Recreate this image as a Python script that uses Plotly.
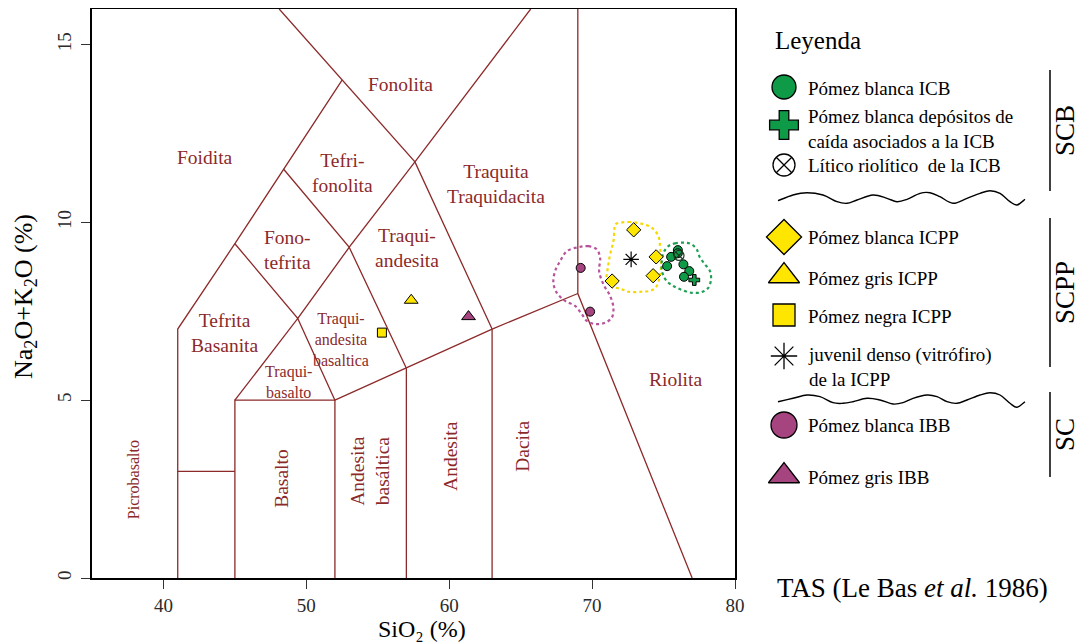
import plotly.graph_objects as go

# ---------------- DATA (SiO2 wt%, Na2O+K2O wt%) ----------------
icb_blanca_sio2 = [75.25, 75.53, 76.0, 76.0, 76.39, 76.8, 76.43]
icb_blanca_alk = [8.77, 9.03, 9.22, 9.13, 8.82, 8.63, 8.47]
icb_caida_sio2 = [77.15]
icb_caida_alk = [8.38]
icb_litico_sio2 = [76.08]
icb_litico_alk = [9.07]
icpp_blanca_sio2 = [72.91, 74.48, 74.27, 71.4]
icpp_blanca_alk = [9.79, 9.03, 8.5, 8.35]
icpp_gris_sio2 = [57.34]
icpp_gris_alk = [7.81]
icpp_negra_sio2 = [55.29]
icpp_negra_alk = [6.9]
icpp_vitro_sio2 = [72.73]
icpp_vitro_alk = [8.96]
ibb_blanca_sio2 = [69.2, 69.86]
ibb_blanca_alk = [8.72, 7.49]
ibb_gris_sio2 = [61.35]
ibb_gris_alk = [7.35]

# field envelopes (dotted outlines)
env_ibb_sio2 = [69.04, 69.74, 70.33, 70.56, 70.49, 70.79, 71.26, 71.49, 71.38, 70.91, 70.21, 69.63,
                69.28, 68.81, 68.11, 67.53, 67.29, 67.41, 67.76, 68.23, 69.04]
env_ibb_alk = [9.30, 9.33, 9.24, 9.00, 8.63, 8.26, 7.93, 7.60, 7.32, 7.18, 7.14, 7.23,
               7.42, 7.65, 7.79, 8.02, 8.30, 8.63, 8.91, 9.19, 9.30]
env_icpp_sio2 = [71.61, 72.54, 73.48, 74.17, 74.64, 74.76, 74.83, 74.76, 74.52, 74.17, 73.48, 72.54,
                 72.08, 71.38, 71.03, 71.10, 71.26, 71.49, 71.56, 71.61]
env_icpp_alk = [9.94, 10.01, 9.96, 9.85, 9.61, 9.28, 8.91, 8.54, 8.21, 8.09, 8.05, 8.05,
                8.12, 8.21, 8.40, 8.72, 9.10, 9.47, 9.80, 9.94]
env_icb_sio2 = [75.34, 75.80, 76.50, 76.97, 77.32, 77.55, 77.90, 78.25, 78.32, 78.13, 77.67, 76.97,
                76.27, 75.69, 75.22, 74.92, 74.87, 74.99, 75.34]
env_icb_alk = [9.33, 9.41, 9.43, 9.38, 9.24, 9.01, 8.82, 8.63, 8.40, 8.16, 8.04, 8.02,
               8.10, 8.21, 8.35, 8.58, 8.86, 9.14, 9.33]

# TAS (Le Bas et al. 1986) field boundaries
tas_boundaries = [
    ([41, 41, 45, 48.4, 52.5], [0, 7, 9.4, 11.5, 14]),
    ([41, 45], [3, 3]),
    ([45, 45, 52, 52], [0, 5, 5, 0]),
    ([45, 49.4, 52], [5, 7.3, 5]),
    ([52, 57, 63, 69], [5, 5.9, 7, 8]),
    ([57, 57], [0, 5.9]),
    ([63, 63], [0, 7]),
    ([69, 69, 77], [16, 8, 0]),
    ([45, 49.4, 53, 57], [9.4, 7.3, 9.3, 5.9]),
    ([48.4, 53, 57.6, 65.7], [11.5, 9.3, 11.7, 16]),
    ([48.1, 52.5, 57.6, 63], [16, 14, 11.7, 7]),
]

# field names: (text, SiO2, alkalis, size, angle)
field_labels = [
    ("Foidita", 42.94, 11.83, 19.5, 0),
    ("Fonolita", 56.57, 13.87, 19.5, 0),
    ("Tefri-<br>fonolita", 52.5, 11.40, 19.5, 0),
    ("Traquita<br>Traquidacita", 63.29, 11.09, 19.5, 0),
    ("Fono-<br>tefrita", 48.65, 9.22, 19.5, 0),
    ("Traqui-<br>andesita", 57.06, 9.28, 19.5, 0),
    ("Tefrita<br>Basanita", 44.27, 6.89, 19.5, 0),
    ("Traqui-<br>andesita<br>basaltica", 52.42, 6.70, 16, 0),
    ("Traqui-<br>basalto", 48.76, 5.51, 16, 0),
    ("Picrobasalto", 37.92, 2.77, 16, -90),
    ("Basalto", 48.3, 2.79, 19.5, -90),
    ("Andesita<br>basáltica", 54.4, 3.02, 19.5, -90),
    ("Andesita", 60.07, 3.44, 19.5, -90),
    ("Dacita", 65.12, 3.70, 19.5, -90),
    ("Riolita", 75.87, 5.57, 19.5, 0),
]

x_ticks = [40, 50, 60, 70, 80]
y_ticks = [0, 5, 10, 15]

# ---------------- STYLE / LAYOUT ----------------
FONT = "Liberation Serif"
TAS_COL = "#8c2a2a"
GREEN = "#0f9a48"
YELLOW = "#ffe600"
PURPLE = "#a5447f"
ENV_GREEN = "#1fa055"
ENV_YELLOW = "#f5d800"
ENV_PURPLE = "#b8529a"

OFF = 8                    # page offset of the plot div (body margin)
W, H = 1083, 644
FL, FR, FT, FB = 92, 735, 9, 578   # frame edges in page pixels

fig = go.Figure()

for xs, ys in tas_boundaries:
    fig.add_trace(go.Scatter(x=xs, y=ys, mode="lines", line=dict(color=TAS_COL, width=1.3),
                             hoverinfo="skip", showlegend=False))

for xs, ys, col in [(env_ibb_sio2, env_ibb_alk, ENV_PURPLE),
                    (env_icpp_sio2, env_icpp_alk, ENV_YELLOW),
                    (env_icb_sio2, env_icb_alk, ENV_GREEN)]:
    fig.add_trace(go.Scatter(x=xs, y=ys, mode="lines",
                             line=dict(color=col, width=2.2, dash="dot", shape="spline", smoothing=1.0),
                             hoverinfo="skip", showlegend=False))

edge = dict(color="black", width=1)
series = [
    (ibb_blanca_sio2, ibb_blanca_alk, "circle", PURPLE, 9),
    (ibb_gris_sio2, ibb_gris_alk, "triangle-up", PURPLE, 12),
    (icpp_gris_sio2, icpp_gris_alk, "triangle-up", YELLOW, 12),
    (icpp_negra_sio2, icpp_negra_alk, "square", YELLOW, 9),
    (icpp_blanca_sio2, icpp_blanca_alk, "diamond", YELLOW, 11),
    (icb_blanca_sio2, icb_blanca_alk, "circle", GREEN, 9),
    (icb_caida_sio2, icb_caida_alk, "cross", GREEN, 9),
]
for xs, ys, sym, col, sz in series:
    fig.add_trace(go.Scatter(x=xs, y=ys, mode="markers",
                             marker=dict(symbol=sym, color=col, size=sz, line=edge),
                             showlegend=False))
fig.add_trace(go.Scatter(x=icb_litico_sio2, y=icb_litico_alk, mode="markers",
                         marker=dict(symbol="circle-x-open", color="#1d3b24", size=10,
                                     line=dict(width=1.2, color="#1d3b24")), showlegend=False))
fig.add_trace(go.Scatter(x=icpp_vitro_sio2, y=icpp_vitro_alk, mode="markers",
                         marker=dict(symbol="asterisk-open", color="black", size=13,
                                     line=dict(width=1.2, color="black")), showlegend=False))

# ---------------- custom legend on a full-page overlay subplot (page pixels) ----------------
legend_items = [
    ("circle", GREEN, 24, 87, "Pómez blanca ICB", 88),
    ("cross", GREEN, 24, 125, "Pómez blanca depósitos de<br>caída asociados a la ICB", 129),
    ("circle-x-open", "black", 22, 165, "Lítico riolítico  de la ICB", 165),
    ("diamond", YELLOW, 27, 237, "Pómez blanca ICPP", 237),
    ("triangle-up", YELLOW, 27, 276, "Pómez gris ICPP", 278),
    ("square", YELLOW, 22, 315, "Pómez negra ICPP", 316),
    ("asterisk-open", "black", 22, 356, "juvenil denso (vitrófiro)<br>de la ICPP", 367),
    ("circle", PURPLE, 26, 425, "Pómez blanca IBB", 425),
    ("triangle-up", PURPLE, 27, 476, "Pómez gris IBB", 477),
]
for sym, col, sz, ypx, txt, ty in legend_items:
    fig.add_trace(go.Scatter(x=[784], y=[ypx], mode="markers", xaxis="x2", yaxis="y2",
                             showlegend=False, hoverinfo="skip",
                             marker=dict(symbol=sym, color=col, size=sz,
                                         line=dict(color="black", width=1.3))))

annotations = []
for txt, x, y, sz, ang in field_labels:
    annotations.append(dict(x=x, y=y, xref="x", yref="y", text=txt, showarrow=False, textangle=ang,
                            xanchor="center", yanchor="middle",
                            font=dict(family=FONT, size=sz, color=TAS_COL), align="center"))

for sym, col, sz, ypx, txt, ty in legend_items:
    annotations.append(dict(x=806, y=ty, xref="x2", yref="y2", text=txt,
                            showarrow=False, xanchor="left", yanchor="middle", align="left",
                            font=dict(family=FONT, size=19, color="black")))


def page_text(txt, x, y, size, angle=0):
    return dict(x=x, y=y, xref="x2", yref="y2", text=txt, showarrow=False, textangle=angle,
                xanchor="center", yanchor="middle", borderpad=0,
                font=dict(family=FONT, size=size, color="black"))


annotations += [
    page_text("Leyenda", 818, 40, 25),
    page_text("SCB", 1065, 131, 27, -90),
    page_text("SCPP", 1065, 293, 27, -90),
    page_text("SC", 1065, 435, 27, -90),
    page_text("TAS (Le Bas <i>et al.</i> 1986)", 912, 588, 27),
    page_text("SiO₂ (%)", 422, 629, 24),
    page_text("Na<sub>2</sub>O+K<sub>2</sub>O (%)", 25, 297, 26, -90),
]


def wavy_path(p):
    d = f"M {p[0][0]},{p[0][1]}"
    for i in range(len(p) - 1):
        p0 = p[i - 1] if i > 0 else p[i]
        p1, p2 = p[i], p[i + 1]
        p3 = p[i + 2] if i + 2 < len(p) else p[i + 1]
        c1 = (p1[0] + (p2[0] - p0[0]) / 6, p1[1] + (p2[1] - p0[1]) / 6)
        c2 = (p2[0] - (p3[0] - p1[0]) / 6, p2[1] - (p3[1] - p1[1]) / 6)
        d += f" C {c1[0]:.2f},{c1[1]:.2f} {c2[0]:.2f},{c2[1]:.2f} {p2[0]},{p2[1]}"
    return d


wave1 = [(778, 200.7), (793, 195), (807, 192.7), (823, 195), (837, 201.7), (847, 203.3), (857, 200),
         (873, 195), (887, 198.3), (897, 201.7), (907, 199.3), (920, 193.3), (930, 192.7), (940, 196.7),
         (953, 203.3), (967, 198.3), (980, 193.3), (990, 190.7), (1000, 193.3), (1010, 201.7),
         (1017, 205), (1025, 199.3)]
wave2 = [(778, 401.7), (793, 398.3), (807, 395), (820, 396.7), (833, 402.7), (843, 403.3), (853, 401.7),
         (867, 398.3), (880, 400), (893, 404), (903, 402.7), (913, 398.3), (927, 395), (937, 396.7),
         (947, 401.7), (957, 403.3), (967, 400), (980, 395), (990, 392.7), (1000, 395), (1010, 403.3),
         (1017, 407.3), (1025, 401.7)]

shapes = []
for w in (wave1, wave2):
    shapes.append(dict(type="path", xref="x2", yref="y2", path=wavy_path(w),
                       line=dict(color="black", width=1.4)))
for y0, y1 in [(70, 191), (218, 367), (392, 477)]:
    shapes.append(dict(type="line", xref="x2", yref="y2", x0=1050, x1=1050, y0=y0, y1=y1,
                       line=dict(color="black", width=1.5)))

axis_common = dict(showgrid=False, zeroline=False, showline=True, linecolor="black", linewidth=2,
                   mirror=True, ticks="outside", ticklen=9, tickwidth=1.4, tickcolor="#333",
                   tickfont=dict(family=FONT, size=19, color="#2b2b2b"), automargin=False)

fig.update_layout(
    width=W, height=H,
    margin=dict(l=0, r=0, t=0, b=0, pad=0),
    paper_bgcolor="white", plot_bgcolor="rgba(0,0,0,0)",
    xaxis=dict(domain=[(FL - OFF) / W, (FR - OFF) / W], range=[35, 80], tickvals=x_ticks,
               ticklabelstandoff=0, anchor="y", **axis_common),
    yaxis=dict(domain=[1 - (FB - OFF) / H, 1 - (FT - OFF) / H], range=[0, 16], tickvals=y_ticks,
               tickangle=-90, ticklabelstandoff=2, anchor="x", **axis_common),
    xaxis2=dict(domain=[0, 1], range=[OFF, OFF + W], visible=False, anchor="y2", fixedrange=True),
    yaxis2=dict(domain=[0, 1], range=[OFF + H, OFF], visible=False, anchor="x2", fixedrange=True),
    annotations=annotations,
    shapes=shapes,
    showlegend=False,
)

fig.write_html("out.html")
